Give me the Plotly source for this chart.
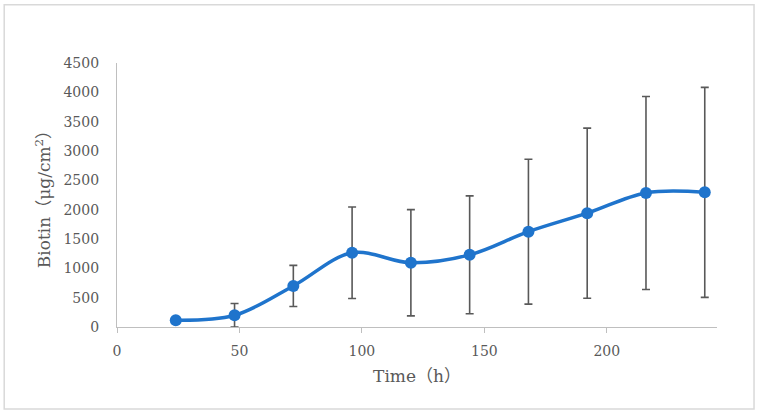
import plotly.graph_objects as go

# sampling times (h)
time_h = [24, 48, 72, 96, 120, 144, 168, 192, 216, 240]
# mean biotin (ug/cm2)
biotin = [115, 200, 700, 1265, 1095, 1230, 1625, 1940, 2285, 2295]
# standard deviation
biotin_sd = [0, 200, 350, 780, 905, 1005, 1235, 1450, 1645, 1790]

x_ticks = [0, 50, 100, 150, 200]
y_ticks = [0, 500, 1000, 1500, 2000, 2500, 3000, 3500, 4000, 4500]

font_fam = "DejaVu Serif, Noto Sans CJK SC"
grey_txt = "#595959"

fig = go.Figure()
fig.add_trace(go.Scatter(
    x=time_h, y=biotin,
    mode="lines+markers",
    line=dict(color="#1f74cc", width=3.5, shape="spline", smoothing=1.0),
    marker=dict(color="#1f74cc", size=12),
    error_y=dict(type="data", array=biotin_sd, visible=True,
                 color="#595959", thickness=1.6, width=4),
    showlegend=False,
))

fig.update_layout(
    width=760, height=415,
    margin=dict(l=117, r=43, t=63, b=88),
    paper_bgcolor="white",
    plot_bgcolor="white",
    font=dict(family=font_fam, color=grey_txt, size=14),
    xaxis=dict(
        range=[0, 245],
        tickvals=x_ticks,
        showgrid=False, zeroline=False,
        showline=True, linecolor="#bfbfbf", linewidth=1.3,
        ticks="outside", ticklen=5, tickcolor="#bfbfbf",
        ticklabelstandoff=6,
        title=dict(text="Time\uff08h\uff09", standoff=12,
                   font=dict(size=17, color=grey_txt)),
    ),
    yaxis=dict(
        range=[0, 4500],
        tickvals=y_ticks,
        showgrid=False, zeroline=False,
        showline=True, linecolor="#bfbfbf", linewidth=1.3,
        ticks="", ticklabelstandoff=14,
        title=dict(text="Biotin\uff08\u03bcg/cm<sup>2</sup>\uff09", standoff=8,
                   font=dict(size=17, color=grey_txt)),
    ),
    shapes=[dict(
        type="rect", xref="paper", yref="paper",
        x0=-0.188, x1=1.0617, y0=-0.3106, y1=1.2208,
        line=dict(color="#d9d9d9", width=1.5),
    )],
)

# drop the default page margin so the figure sits at the window corner
fig.write_html("out.html", config={"displayModeBar": False},
               post_script="document.body.style.margin='0';")
